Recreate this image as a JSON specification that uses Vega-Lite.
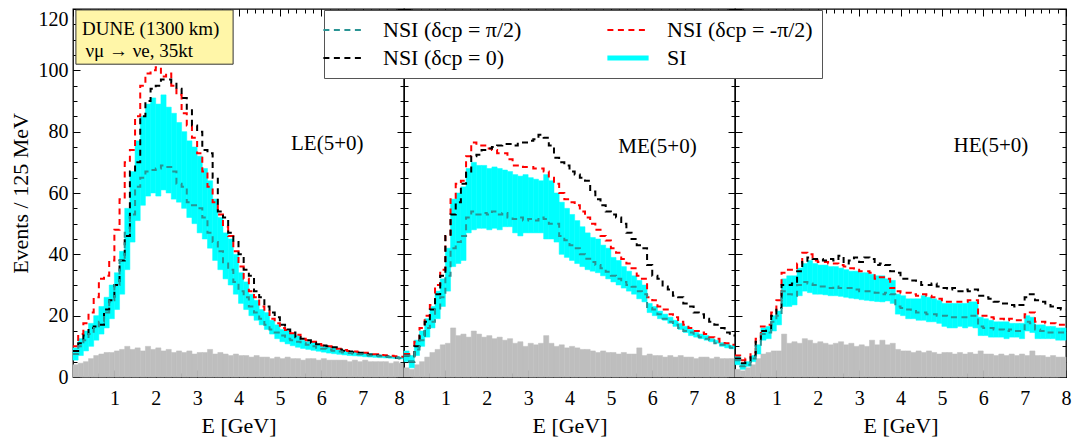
{
"$schema": "https://vega.github.io/schema/vega-lite/v6.json",
"padding": {"left": 8, "top": 7, "right": 5, "bottom": 3},
"background": "white",
"config": {
 "font": "Liberation Serif",
 "view": {"stroke": "#000000", "strokeWidth": 1.3},
 "axis": {"domain": false, "grid": false, "tickColor": "#000000", "tickWidth": 1, "labelFont": "Liberation Serif", "labelFontSize": 20, "labelColor": "#000000", "labelFlush": false, "titleFont": "Liberation Serif", "titleFontSize": 22, "titleFontWeight": "normal", "titleColor": "#000000"}
},
"datasets": {
"bins": [
{"p":"LE","e0":0,"e1":0.125,"lo":5.5,"hi":9.5,"a":7.5,"b":8.5,"c":10,"g":4},
{"p":"LE","e0":0.125,"e1":0.25,"lo":7,"hi":12.5,"a":10,"b":11,"c":14,"g":4.5},
{"p":"LE","e0":0.25,"e1":0.375,"lo":8.5,"hi":15,"a":12,"b":13.5,"c":17.5,"g":5},
{"p":"LE","e0":0.375,"e1":0.5,"lo":10,"hi":17.5,"a":14,"b":16,"c":21,"g":6},
{"p":"LE","e0":0.5,"e1":0.625,"lo":12,"hi":20,"a":16,"b":16.5,"c":26,"g":7},
{"p":"LE","e0":0.625,"e1":0.75,"lo":14,"hi":23,"a":18,"b":17,"c":32,"g":7.5},
{"p":"LE","e0":0.75,"e1":0.875,"lo":16,"hi":26,"a":21,"b":22,"c":33,"g":8},
{"p":"LE","e0":0.875,"e1":1,"lo":19,"hi":30,"a":25,"b":25,"c":38,"g":8},
{"p":"LE","e0":1,"e1":1.125,"lo":22,"hi":34,"a":30,"b":30,"c":48,"g":8.5},
{"p":"LE","e0":1.125,"e1":1.25,"lo":27,"hi":41,"a":38,"b":38,"c":58,"g":9},
{"p":"LE","e0":1.25,"e1":1.375,"lo":35,"hi":55,"a":47,"b":46,"c":70,"g":10},
{"p":"LE","e0":1.375,"e1":1.5,"lo":44,"hi":67,"a":53,"b":67,"c":74,"g":9},
{"p":"LE","e0":1.5,"e1":1.625,"lo":51,"hi":77,"a":62,"b":70,"c":85,"g":9.5},
{"p":"LE","e0":1.625,"e1":1.75,"lo":56,"hi":85,"a":65,"b":85,"c":95,"g":8.5},
{"p":"LE","e0":1.75,"e1":1.875,"lo":59,"hi":89,"a":67,"b":90,"c":99,"g":10},
{"p":"LE","e0":1.875,"e1":2,"lo":60,"hi":91,"a":67.5,"b":94,"c":100,"g":9},
{"p":"LE","e0":2,"e1":2.125,"lo":59,"hi":89,"a":68,"b":95,"c":101,"g":9.5},
{"p":"LE","e0":2.125,"e1":2.25,"lo":61,"hi":92,"a":69,"b":97,"c":98,"g":8.5},
{"p":"LE","e0":2.25,"e1":2.375,"lo":60,"hi":88,"a":68.5,"b":97,"c":99,"g":9},
{"p":"LE","e0":2.375,"e1":2.5,"lo":58,"hi":86,"a":67,"b":96,"c":95,"g":8},
{"p":"LE","e0":2.5,"e1":2.625,"lo":57,"hi":83,"a":63,"b":94,"c":92,"g":8.5},
{"p":"LE","e0":2.625,"e1":2.75,"lo":55,"hi":80,"a":62,"b":91,"c":86,"g":8},
{"p":"LE","e0":2.75,"e1":2.875,"lo":52,"hi":77,"a":57,"b":87,"c":82,"g":8.5},
{"p":"LE","e0":2.875,"e1":3,"lo":50,"hi":75,"a":56,"b":82,"c":78,"g":7.5},
{"p":"LE","e0":3,"e1":3.125,"lo":47,"hi":72,"a":55,"b":80,"c":73,"g":8},
{"p":"LE","e0":3.125,"e1":3.25,"lo":45,"hi":68,"a":52,"b":74,"c":67,"g":8},
{"p":"LE","e0":3.25,"e1":3.375,"lo":42,"hi":64,"a":47,"b":73,"c":62,"g":9},
{"p":"LE","e0":3.375,"e1":3.5,"lo":38,"hi":58,"a":44,"b":65,"c":57,"g":7.5},
{"p":"LE","e0":3.5,"e1":3.625,"lo":35,"hi":52,"a":41,"b":54,"c":53,"g":8},
{"p":"LE","e0":3.625,"e1":3.75,"lo":32,"hi":47,"a":37,"b":52,"c":49,"g":7.5},
{"p":"LE","e0":3.75,"e1":3.875,"lo":30,"hi":45,"a":35,"b":47,"c":46,"g":7},
{"p":"LE","e0":3.875,"e1":4,"lo":27,"hi":40,"a":31,"b":44,"c":41,"g":7.5},
{"p":"LE","e0":4,"e1":4.125,"lo":24,"hi":34,"a":28,"b":40,"c":36,"g":7},
{"p":"LE","e0":4.125,"e1":4.25,"lo":22,"hi":31,"a":26,"b":35,"c":32,"g":7},
{"p":"LE","e0":4.25,"e1":4.375,"lo":20,"hi":27,"a":23,"b":33,"c":28,"g":6.5},
{"p":"LE","e0":4.375,"e1":4.5,"lo":18.5,"hi":25,"a":21,"b":28,"c":26,"g":7},
{"p":"LE","e0":4.5,"e1":4.625,"lo":17,"hi":22,"a":19,"b":26,"c":23,"g":6.5},
{"p":"LE","e0":4.625,"e1":4.75,"lo":15.5,"hi":21,"a":17,"b":23,"c":21.5,"g":6.5},
{"p":"LE","e0":4.75,"e1":4.875,"lo":14,"hi":18.5,"a":15.5,"b":21,"c":19,"g":6},
{"p":"LE","e0":4.875,"e1":5,"lo":12.5,"hi":17,"a":14.5,"b":19.5,"c":17.5,"g":6.5},
{"p":"LE","e0":5,"e1":5.125,"lo":11.5,"hi":15.5,"a":13.5,"b":17,"c":16,"g":6},
{"p":"LE","e0":5.125,"e1":5.25,"lo":10.8,"hi":15,"a":12.5,"b":15.5,"c":15.3,"g":6.5},
{"p":"LE","e0":5.25,"e1":5.375,"lo":10.2,"hi":14,"a":12,"b":14.5,"c":14.3,"g":6},
{"p":"LE","e0":5.375,"e1":5.5,"lo":9.7,"hi":13.5,"a":11.5,"b":13,"c":13.8,"g":6},
{"p":"LE","e0":5.5,"e1":5.625,"lo":9.3,"hi":12,"a":11,"b":12.5,"c":12.5,"g":5.5},
{"p":"LE","e0":5.625,"e1":5.75,"lo":9,"hi":11.5,"a":10.5,"b":12,"c":12,"g":6},
{"p":"LE","e0":5.75,"e1":5.875,"lo":8.7,"hi":11.2,"a":10,"b":11.2,"c":11.5,"g":6},
{"p":"LE","e0":5.875,"e1":6,"lo":8.4,"hi":10.5,"a":9.5,"b":10.7,"c":10.8,"g":5.5},
{"p":"LE","e0":6,"e1":6.125,"lo":8.1,"hi":10,"a":9.2,"b":10.3,"c":10.3,"g":6},
{"p":"LE","e0":6.125,"e1":6.25,"lo":7.8,"hi":9.8,"a":8.9,"b":10,"c":10,"g":5.5},
{"p":"LE","e0":6.25,"e1":6.375,"lo":7.6,"hi":9.5,"a":8.6,"b":9.7,"c":9.7,"g":5.5},
{"p":"LE","e0":6.375,"e1":6.5,"lo":7.4,"hi":8.8,"a":8.3,"b":9,"c":9.2,"g":5.5},
{"p":"LE","e0":6.5,"e1":6.625,"lo":7.2,"hi":8.5,"a":8,"b":8.6,"c":8.8,"g":5.5},
{"p":"LE","e0":6.625,"e1":6.75,"lo":7,"hi":8.3,"a":7.8,"b":8.3,"c":8.5,"g":5},
{"p":"LE","e0":6.75,"e1":6.875,"lo":6.9,"hi":8.2,"a":7.6,"b":8.1,"c":8.3,"g":5.5},
{"p":"LE","e0":6.875,"e1":7,"lo":6.8,"hi":8,"a":7.4,"b":7.9,"c":8.1,"g":5},
{"p":"LE","e0":7,"e1":7.125,"lo":6.6,"hi":7.8,"a":7.2,"b":7.6,"c":7.9,"g":5.5},
{"p":"LE","e0":7.125,"e1":7.25,"lo":6.5,"hi":7.6,"a":7,"b":7.3,"c":7.7,"g":5},
{"p":"LE","e0":7.25,"e1":7.375,"lo":6.4,"hi":7.3,"a":6.9,"b":7.1,"c":7.4,"g":5},
{"p":"LE","e0":7.375,"e1":7.5,"lo":6.3,"hi":7.1,"a":6.8,"b":6.9,"c":7.2,"g":5},
{"p":"LE","e0":7.5,"e1":7.625,"lo":6.2,"hi":7,"a":6.6,"b":6.7,"c":7.1,"g":5},
{"p":"LE","e0":7.625,"e1":7.75,"lo":6.1,"hi":6.8,"a":6.5,"b":6.5,"c":6.9,"g":4.5},
{"p":"LE","e0":7.75,"e1":7.875,"lo":6,"hi":6.7,"a":6.3,"b":6.3,"c":6.8,"g":5},
{"p":"LE","e0":7.875,"e1":8,"lo":5.9,"hi":6.5,"a":6.2,"b":6.1,"c":6.6,"g":4.5},
{"p":"ME","e0":0,"e1":0.125,"lo":5,"hi":8.5,"a":7,"b":7,"c":7.5,"g":3},
{"p":"ME","e0":0.125,"e1":0.25,"lo":3,"hi":7,"a":5,"b":5,"c":7,"g":2.5},
{"p":"ME","e0":0.25,"e1":0.375,"lo":7,"hi":12,"a":9,"b":10,"c":11.5,"g":4},
{"p":"ME","e0":0.375,"e1":0.5,"lo":10,"hi":15,"a":12,"b":13.5,"c":16,"g":5},
{"p":"ME","e0":0.5,"e1":0.625,"lo":13,"hi":19,"a":16,"b":18,"c":20,"g":6.5},
{"p":"ME","e0":0.625,"e1":0.75,"lo":16,"hi":23,"a":18,"b":22,"c":23.5,"g":8},
{"p":"ME","e0":0.75,"e1":0.875,"lo":19,"hi":28,"a":22,"b":27,"c":30,"g":9},
{"p":"ME","e0":0.875,"e1":1,"lo":23,"hi":32,"a":26,"b":33,"c":35,"g":10.5},
{"p":"ME","e0":1,"e1":1.125,"lo":28,"hi":42,"a":33,"b":46,"c":46,"g":11},
{"p":"ME","e0":1.125,"e1":1.25,"lo":36,"hi":58,"a":42,"b":53,"c":58,"g":16},
{"p":"ME","e0":1.25,"e1":1.375,"lo":37,"hi":60,"a":44,"b":57,"c":63,"g":13.5},
{"p":"ME","e0":1.375,"e1":1.5,"lo":38,"hi":62,"a":46,"b":63,"c":64,"g":14},
{"p":"ME","e0":1.5,"e1":1.625,"lo":47,"hi":68,"a":52,"b":67,"c":72,"g":13},
{"p":"ME","e0":1.625,"e1":1.75,"lo":48,"hi":70,"a":54,"b":72,"c":76.5,"g":15},
{"p":"ME","e0":1.75,"e1":1.875,"lo":48.5,"hi":69,"a":53,"b":72.5,"c":75.5,"g":14},
{"p":"ME","e0":1.875,"e1":2,"lo":48.5,"hi":69,"a":53.5,"b":74,"c":75.5,"g":13},
{"p":"ME","e0":2,"e1":2.125,"lo":48,"hi":68,"a":53,"b":74.5,"c":74.5,"g":13.5},
{"p":"ME","e0":2.125,"e1":2.25,"lo":48.5,"hi":68.5,"a":54,"b":75,"c":74,"g":12.5},
{"p":"ME","e0":2.25,"e1":2.375,"lo":48,"hi":68,"a":53,"b":75.5,"c":73,"g":13},
{"p":"ME","e0":2.375,"e1":2.5,"lo":49,"hi":67.5,"a":53.5,"b":76,"c":73,"g":12},
{"p":"ME","e0":2.5,"e1":2.625,"lo":49,"hi":67,"a":52,"b":76,"c":71,"g":12.5},
{"p":"ME","e0":2.625,"e1":2.75,"lo":47,"hi":66,"a":51.5,"b":75.5,"c":69,"g":11},
{"p":"ME","e0":2.75,"e1":2.875,"lo":46,"hi":65.5,"a":52,"b":76.5,"c":69,"g":11.5},
{"p":"ME","e0":2.875,"e1":3,"lo":47,"hi":66,"a":51,"b":76.5,"c":68.5,"g":10},
{"p":"ME","e0":3,"e1":3.125,"lo":47,"hi":65,"a":51.5,"b":77,"c":68.5,"g":11},
{"p":"ME","e0":3.125,"e1":3.25,"lo":47,"hi":64.5,"a":51,"b":77.5,"c":68,"g":10.5},
{"p":"ME","e0":3.25,"e1":3.375,"lo":47,"hi":64,"a":52,"b":79,"c":68,"g":11},
{"p":"ME","e0":3.375,"e1":3.5,"lo":45,"hi":66,"a":51.5,"b":78,"c":67,"g":13.5},
{"p":"ME","e0":3.5,"e1":3.625,"lo":45,"hi":64,"a":50,"b":75.5,"c":65,"g":11},
{"p":"ME","e0":3.625,"e1":3.75,"lo":44,"hi":60,"a":50,"b":71.5,"c":63,"g":10},
{"p":"ME","e0":3.75,"e1":3.875,"lo":40,"hi":57,"a":46,"b":70,"c":60,"g":10.5},
{"p":"ME","e0":3.875,"e1":4,"lo":39,"hi":55,"a":44.6,"b":69,"c":58,"g":9.5},
{"p":"ME","e0":4,"e1":4.125,"lo":38,"hi":53,"a":43,"b":67,"c":57,"g":10},
{"p":"ME","e0":4.125,"e1":4.25,"lo":37,"hi":51,"a":42,"b":66,"c":56,"g":9.5},
{"p":"ME","e0":4.25,"e1":4.375,"lo":36,"hi":49,"a":40,"b":65,"c":54,"g":9},
{"p":"ME","e0":4.375,"e1":4.5,"lo":35,"hi":47,"a":38.6,"b":64,"c":52,"g":9},
{"p":"ME","e0":4.5,"e1":4.625,"lo":34.5,"hi":45.5,"a":37.5,"b":60.5,"c":50,"g":8.5},
{"p":"ME","e0":4.625,"e1":4.75,"lo":34,"hi":45,"a":36.5,"b":58,"c":48,"g":8},
{"p":"ME","e0":4.75,"e1":4.875,"lo":33,"hi":43,"a":35.5,"b":56,"c":46,"g":8.5},
{"p":"ME","e0":4.875,"e1":5,"lo":32,"hi":42,"a":34.3,"b":54,"c":44.5,"g":8},
{"p":"ME","e0":5,"e1":5.125,"lo":31,"hi":39,"a":33,"b":53,"c":42,"g":8},
{"p":"ME","e0":5.125,"e1":5.25,"lo":30,"hi":38,"a":32,"b":52,"c":40.5,"g":7.5},
{"p":"ME","e0":5.25,"e1":5.375,"lo":29,"hi":36,"a":31,"b":50,"c":38.5,"g":8},
{"p":"ME","e0":5.375,"e1":5.5,"lo":28,"hi":34.5,"a":30,"b":47,"c":37,"g":7.5},
{"p":"ME","e0":5.5,"e1":5.625,"lo":27,"hi":33,"a":29.4,"b":45,"c":35.5,"g":7.5},
{"p":"ME","e0":5.625,"e1":5.75,"lo":25.5,"hi":31.5,"a":28,"b":43,"c":33,"g":9.5},
{"p":"ME","e0":5.75,"e1":5.875,"lo":24.5,"hi":30,"a":27,"b":42,"c":32,"g":7},
{"p":"ME","e0":5.875,"e1":6,"lo":21,"hi":24,"a":22.5,"b":36.5,"c":26,"g":7.5},
{"p":"ME","e0":6,"e1":6.125,"lo":20,"hi":23,"a":22,"b":33,"c":25,"g":7},
{"p":"ME","e0":6.125,"e1":6.25,"lo":19,"hi":21.5,"a":20.5,"b":32,"c":23,"g":7},
{"p":"ME","e0":6.25,"e1":6.375,"lo":18.5,"hi":20.5,"a":19,"b":29.5,"c":22,"g":6.5},
{"p":"ME","e0":6.375,"e1":6.5,"lo":17.5,"hi":19.5,"a":18,"b":28.5,"c":20.5,"g":7},
{"p":"ME","e0":6.5,"e1":6.625,"lo":16.5,"hi":18.5,"a":17,"b":26.5,"c":19.5,"g":6.5},
{"p":"ME","e0":6.625,"e1":6.75,"lo":15.5,"hi":17.5,"a":16,"b":26,"c":18,"g":7},
{"p":"ME","e0":6.75,"e1":6.875,"lo":14.5,"hi":16.5,"a":15,"b":24,"c":17,"g":6.5},
{"p":"ME","e0":6.875,"e1":7,"lo":13.5,"hi":15.5,"a":14.5,"b":23,"c":16,"g":6.5},
{"p":"ME","e0":7,"e1":7.125,"lo":13,"hi":14.5,"a":13.5,"b":21,"c":15,"g":6},
{"p":"ME","e0":7.125,"e1":7.25,"lo":12.5,"hi":14,"a":13,"b":20.5,"c":14.5,"g":6.5},
{"p":"ME","e0":7.25,"e1":7.375,"lo":12,"hi":13.5,"a":12.5,"b":19,"c":14,"g":6.5},
{"p":"ME","e0":7.375,"e1":7.5,"lo":11.5,"hi":12.5,"a":12,"b":18,"c":13,"g":6},
{"p":"ME","e0":7.5,"e1":7.625,"lo":11,"hi":12,"a":11,"b":17,"c":12.5,"g":6.5},
{"p":"ME","e0":7.625,"e1":7.75,"lo":10,"hi":11.2,"a":10.5,"b":16,"c":11.5,"g":6},
{"p":"ME","e0":7.75,"e1":7.875,"lo":9.5,"hi":10.8,"a":10,"b":14.5,"c":11,"g":6},
{"p":"ME","e0":7.875,"e1":8,"lo":9.2,"hi":10.3,"a":9.5,"b":13.5,"c":10.5,"g":6},
{"p":"HE","e0":0,"e1":0.125,"lo":4,"hi":7,"a":5.5,"b":6,"c":7,"g":2.5},
{"p":"HE","e0":0.125,"e1":0.25,"lo":2.5,"hi":4.5,"a":3.5,"b":4.5,"c":5.5,"g":2},
{"p":"HE","e0":0.25,"e1":0.375,"lo":3.5,"hi":5,"a":4,"b":5,"c":6,"g":3},
{"p":"HE","e0":0.375,"e1":0.5,"lo":5,"hi":7,"a":6,"b":7,"c":8,"g":4},
{"p":"HE","e0":0.5,"e1":0.625,"lo":7.5,"hi":10.5,"a":10,"b":11.5,"c":12.5,"g":6},
{"p":"HE","e0":0.625,"e1":0.75,"lo":12,"hi":16,"a":14,"b":15,"c":16.5,"g":7.5},
{"p":"HE","e0":0.75,"e1":0.875,"lo":12.5,"hi":16.5,"a":14.5,"b":15.5,"c":17,"g":8},
{"p":"HE","e0":0.875,"e1":1,"lo":15,"hi":20,"a":18,"b":20,"c":21,"g":8.5},
{"p":"HE","e0":1,"e1":1.125,"lo":17,"hi":21.5,"a":20,"b":22.5,"c":25,"g":8.5},
{"p":"HE","e0":1.125,"e1":1.25,"lo":23,"hi":32,"a":28,"b":30,"c":34,"g":14},
{"p":"HE","e0":1.25,"e1":1.375,"lo":23,"hi":33,"a":27,"b":30,"c":35,"g":11},
{"p":"HE","e0":1.375,"e1":1.5,"lo":23.5,"hi":33,"a":26.5,"b":30.5,"c":35,"g":11.5},
{"p":"HE","e0":1.5,"e1":1.625,"lo":26.5,"hi":35.5,"a":30,"b":34.5,"c":37,"g":11},
{"p":"HE","e0":1.625,"e1":1.75,"lo":28,"hi":37,"a":31,"b":37.5,"c":40.5,"g":12.5},
{"p":"HE","e0":1.75,"e1":1.875,"lo":27.5,"hi":38,"a":30.5,"b":39,"c":40,"g":12},
{"p":"HE","e0":1.875,"e1":2,"lo":27,"hi":37,"a":30,"b":38.5,"c":38,"g":11},
{"p":"HE","e0":2,"e1":2.125,"lo":27,"hi":36.5,"a":29.5,"b":38.5,"c":37.5,"g":11.5},
{"p":"HE","e0":2.125,"e1":2.25,"lo":26.8,"hi":36.5,"a":29.5,"b":38,"c":37.5,"g":11},
{"p":"HE","e0":2.25,"e1":2.375,"lo":26.5,"hi":36,"a":29,"b":38.5,"c":37,"g":10.5},
{"p":"HE","e0":2.375,"e1":2.5,"lo":26.5,"hi":36,"a":29.5,"b":38,"c":37,"g":11},
{"p":"HE","e0":2.5,"e1":2.625,"lo":26.3,"hi":35.5,"a":29,"b":39.5,"c":36.5,"g":11.5},
{"p":"HE","e0":2.625,"e1":2.75,"lo":26,"hi":35,"a":29,"b":37,"c":36,"g":10.5},
{"p":"HE","e0":2.75,"e1":2.875,"lo":25.7,"hi":34.5,"a":29,"b":38,"c":35.5,"g":11},
{"p":"HE","e0":2.875,"e1":3,"lo":25.5,"hi":34.5,"a":28.5,"b":39,"c":35,"g":10},
{"p":"HE","e0":3,"e1":3.125,"lo":25.2,"hi":34,"a":28,"b":37.5,"c":34.5,"g":10.5},
{"p":"HE","e0":3.125,"e1":3.25,"lo":25,"hi":34,"a":28,"b":39,"c":34.5,"g":10},
{"p":"HE","e0":3.25,"e1":3.375,"lo":24.8,"hi":33.5,"a":28,"b":38.5,"c":34,"g":12},
{"p":"HE","e0":3.375,"e1":3.5,"lo":24.6,"hi":33,"a":27.5,"b":36.5,"c":32,"g":10.5},
{"p":"HE","e0":3.5,"e1":3.625,"lo":24.5,"hi":33,"a":27,"b":37,"c":32.5,"g":12},
{"p":"HE","e0":3.625,"e1":3.75,"lo":24.8,"hi":32,"a":27.5,"b":36.5,"c":32,"g":10.5},
{"p":"HE","e0":3.75,"e1":3.875,"lo":24,"hi":31.5,"a":27,"b":34.5,"c":29,"g":11},
{"p":"HE","e0":3.875,"e1":4,"lo":20.5,"hi":27,"a":23,"b":34,"c":28,"g":9},
{"p":"HE","e0":4,"e1":4.125,"lo":20,"hi":26.5,"a":22.5,"b":32,"c":27.5,"g":8.5},
{"p":"HE","e0":4.125,"e1":4.25,"lo":19,"hi":25.5,"a":22,"b":32,"c":27.5,"g":8.5},
{"p":"HE","e0":4.25,"e1":4.375,"lo":19,"hi":25.5,"a":21.5,"b":31.5,"c":27,"g":8},
{"p":"HE","e0":4.375,"e1":4.5,"lo":18.5,"hi":25.5,"a":21,"b":31,"c":26.5,"g":8.5},
{"p":"HE","e0":4.5,"e1":4.625,"lo":18.5,"hi":26.5,"a":21,"b":30,"c":27,"g":8},
{"p":"HE","e0":4.625,"e1":4.75,"lo":18,"hi":26,"a":20.5,"b":30,"c":26.5,"g":8.5},
{"p":"HE","e0":4.75,"e1":4.875,"lo":18,"hi":25.5,"a":20.5,"b":30.5,"c":26,"g":8},
{"p":"HE","e0":4.875,"e1":5,"lo":17.5,"hi":25,"a":20,"b":29.5,"c":25.5,"g":7.5},
{"p":"HE","e0":5,"e1":5.125,"lo":16.5,"hi":24,"a":20,"b":29,"c":24.5,"g":8},
{"p":"HE","e0":5.125,"e1":5.25,"lo":16,"hi":24,"a":19.5,"b":28.5,"c":24.5,"g":8},
{"p":"HE","e0":5.25,"e1":5.375,"lo":16,"hi":24,"a":19.5,"b":29,"c":24.5,"g":7.5},
{"p":"HE","e0":5.375,"e1":5.5,"lo":16.5,"hi":24,"a":19.5,"b":28,"c":24.5,"g":8},
{"p":"HE","e0":5.5,"e1":5.625,"lo":16,"hi":24,"a":19.5,"b":28.5,"c":24.5,"g":7.5},
{"p":"HE","e0":5.625,"e1":5.75,"lo":16.5,"hi":24.5,"a":20,"b":28,"c":25,"g":8},
{"p":"HE","e0":5.75,"e1":5.875,"lo":16,"hi":24.5,"a":20,"b":28.5,"c":25,"g":7.5},
{"p":"HE","e0":5.875,"e1":6,"lo":13.5,"hi":19.5,"a":16.5,"b":26.5,"c":20,"g":8.5},
{"p":"HE","e0":6,"e1":6.125,"lo":13.5,"hi":19,"a":16,"b":26,"c":20,"g":7.5},
{"p":"HE","e0":6.125,"e1":6.25,"lo":13,"hi":18.5,"a":16,"b":25.5,"c":19.5,"g":7.5},
{"p":"HE","e0":6.25,"e1":6.375,"lo":13,"hi":18,"a":15.5,"b":24.5,"c":19,"g":7},
{"p":"HE","e0":6.375,"e1":6.5,"lo":13,"hi":18,"a":15.5,"b":24,"c":19,"g":7.5},
{"p":"HE","e0":6.5,"e1":6.625,"lo":12.5,"hi":18,"a":15,"b":24,"c":18.5,"g":7},
{"p":"HE","e0":6.625,"e1":6.75,"lo":13,"hi":17.5,"a":15.5,"b":23.5,"c":19,"g":7.5},
{"p":"HE","e0":6.75,"e1":6.875,"lo":13,"hi":17.5,"a":15,"b":23,"c":18.5,"g":7},
{"p":"HE","e0":6.875,"e1":7,"lo":12.5,"hi":17.5,"a":15,"b":23.5,"c":18.5,"g":7.5},
{"p":"HE","e0":7,"e1":7.125,"lo":15,"hi":20,"a":18,"b":26,"c":20.5,"g":7},
{"p":"HE","e0":7.125,"e1":7.25,"lo":14.5,"hi":19.5,"a":17.5,"b":27,"c":21,"g":8.5},
{"p":"HE","e0":7.25,"e1":7.375,"lo":12.5,"hi":17,"a":15.5,"b":25,"c":18,"g":7},
{"p":"HE","e0":7.375,"e1":7.5,"lo":12.5,"hi":17,"a":15,"b":24.5,"c":18,"g":7},
{"p":"HE","e0":7.5,"e1":7.625,"lo":12.5,"hi":16.5,"a":14.5,"b":23.5,"c":17.5,"g":6.5},
{"p":"HE","e0":7.625,"e1":7.75,"lo":12.5,"hi":16.5,"a":14.5,"b":23,"c":17.5,"g":7},
{"p":"HE","e0":7.75,"e1":7.875,"lo":12,"hi":16,"a":14.5,"b":22.5,"c":17,"g":6.5},
{"p":"HE","e0":7.875,"e1":8,"lo":12,"hi":16,"a":14.5,"b":22,"c":17,"g":6.5}
]
},
"hconcat": [
{
 "width": 331, "height": 368,
 "layer": [
  {"data": {"name": "bins"}, "transform": [{"filter": "datum.p === 'LE'"}],
   "mark": {"type": "rect", "color": "#bebebe", "stroke": "#bebebe", "strokeWidth": 0.5},
   "encoding": {
    "x": {"field": "e0", "type": "quantitative", "scale": {"domain": [0, 8], "nice": false, "zero": false}, "axis": {"orient": "bottom", "values": [1,2,3,4,5,6,7,8], "format": "d", "tickSize": -7, "labelPadding": 18, "labelFlush": true, "title": "E [GeV]", "titlePadding": 7}},
    "x2": {"field": "e1"},
    "y": {"field": "g", "type": "quantitative", "scale": {"domain": [0, 120], "nice": false}, "axis": {"orient": "left", "values": [0,20,40,60,80,100], "format": "d", "tickSize": -7, "labelPadding": 12, "title": "Events / 125 MeV", "titlePadding": 6}},
    "y2": {"datum": 0}
   }},
  {"data": {"name": "bins"}, "transform": [{"filter": "datum.p === 'LE'"}],
   "mark": {"type": "rect", "fill": "#00ffff", "strokeWidth": 0.5},
   "encoding": {
    "x": {"field": "e0", "type": "quantitative", "axis": {"orient": "bottom", "values": [0,0.2,0.4,0.6,0.8,1,1.2,1.4,1.6,1.8,2,2.2,2.4,2.6,2.8,3,3.2,3.4,3.6,3.8,4,4.2,4.4,4.6,4.8,5,5.2,5.4,5.6,5.8,6,6.2,6.4,6.6,6.8,7,7.2,7.4,7.6,7.8,8], "tickSize": -4, "labels": false, "title": null}},
    "x2": {"field": "e1"},
    "y": {"field": "lo", "type": "quantitative", "axis": {"orient": "left", "values": [0,5,10,15,20,25,30,35,40,45,50,55,60,65,70,75,80,85,90,95,100,105,110,115,120], "tickSize": -4, "labels": false, "title": null}},
    "y2": {"field": "hi"},
    "stroke": {"datum": "SI", "type": "nominal", "scale": {"domain": ["n1", "n3", "n2", "SI"], "range": ["#2a9494", "#ff0000", "#000000", "#00ffff"]}}
   }},
  {"data": {"name": "bins"}, "transform": [{"filter": "datum.p === 'LE'"}, {"fold": ["e0", "e1"], "as": ["k", "x"]}],
   "mark": {"type": "line", "strokeDash": [6, 4.5], "strokeWidth": 2},
   "encoding": {
    "x": {"field": "x", "type": "quantitative", "axis": {"orient": "top", "values": [0,1,2,3,4,5,6,7,8], "tickSize": -7, "labels": false, "title": null}},
    "y": {"field": "c", "type": "quantitative", "axis": {"orient": "right", "values": [0,20,40,60,80,100,120], "tickSize": -7, "labels": false, "title": null}},
    "order": [{"field": "x", "type": "quantitative"}, {"field": "k", "type": "nominal", "sort": "descending"}],
    "stroke": {"datum": "n3", "type": "nominal",
     "scale": {"domain": ["n1", "n3", "n2", "SI"], "range": ["#2a9494", "#ff0000", "#000000", "#00ffff"]},
     "legend": {"orient": "none", "legendX": 251, "legendY": 1, "columns": 2, "direction": "horizontal", "title": null,
      "symbolType": "stroke", "symbolSize": 1700,
      "symbolDash": {"expr": "datum && datum.value === 'SI' ? [100, 0] : [6, 4.5]"},
      "symbolStrokeWidth": {"expr": "datum && datum.value === 'SI' ? 5 : 2"},
      "labelFont": "Liberation Serif", "labelFontSize": 22, "labelLimit": 300, "labelColor": "#000000",
      "padding": 9, "strokeColor": "#555555", "fillColor": "#ffffff", "columnPadding": 75, "rowPadding": 6, "labelOffset": 28,
      "labelExpr": "datum.value === 'n1' ? 'NSI (δcp = π/2)' : datum.value === 'n2' ? 'NSI (δcp = 0)' : datum.value === 'n3' ? 'NSI (δcp = -π/2)' : 'SI'"}}
   }},
  {"data": {"name": "bins"}, "transform": [{"filter": "datum.p === 'LE'"}, {"fold": ["e0", "e1"], "as": ["k", "x"]}],
   "mark": {"type": "line", "strokeDash": [6, 4.5], "strokeWidth": 2},
   "encoding": {
    "x": {"field": "x", "type": "quantitative", "axis": {"orient": "top", "values": [0,0.2,0.4,0.6,0.8,1,1.2,1.4,1.6,1.8,2,2.2,2.4,2.6,2.8,3,3.2,3.4,3.6,3.8,4,4.2,4.4,4.6,4.8,5,5.2,5.4,5.6,5.8,6,6.2,6.4,6.6,6.8,7,7.2,7.4,7.6,7.8,8], "tickSize": -4, "labels": false, "title": null}},
    "y": {"field": "b", "type": "quantitative", "axis": {"orient": "right", "values": [0,5,10,15,20,25,30,35,40,45,50,55,60,65,70,75,80,85,90,95,100,105,110,115,120], "tickSize": -4, "labels": false, "title": null}},
    "order": [{"field": "x", "type": "quantitative"}, {"field": "k", "type": "nominal", "sort": "descending"}],
    "stroke": {"datum": "n2", "type": "nominal", "scale": {"domain": ["n1", "n3", "n2", "SI"], "range": ["#2a9494", "#ff0000", "#000000", "#00ffff"]}}
   }},
  {"data": {"name": "bins"}, "transform": [{"filter": "datum.p === 'LE'"}, {"fold": ["e0", "e1"], "as": ["k", "x"]}],
   "mark": {"type": "line", "strokeDash": [6, 4.5], "strokeWidth": 2},
   "encoding": {
    "x": {"field": "x", "type": "quantitative", "axis": null},
    "y": {"field": "a", "type": "quantitative", "axis": {"orient": "left", "values": [120], "format": "d", "tickSize": -7, "labelPadding": 12, "labelFlush": true, "title": null}},
    "order": [{"field": "x", "type": "quantitative"}, {"field": "k", "type": "nominal", "sort": "descending"}],
    "stroke": {"datum": "n1", "type": "nominal", "scale": {"domain": ["n1", "n3", "n2", "SI"], "range": ["#2a9494", "#ff0000", "#000000", "#00ffff"]}}
   }},
  {"data": {"values": [{"t": "LE(5+0)"}]},
   "mark": {"type": "text", "fontSize": 21, "align": "left", "baseline": "alphabetic", "color": "#000000"},
   "encoding": {"x": {"datum": 5.27, "type": "quantitative", "axis": null}, "y": {"datum": 74, "type": "quantitative", "axis": null}, "text": {"field": "t"}}},
  {"data": {"values": [{"t": "DUNE (1300 km)"}]},
   "mark": {"type": "rect", "fill": "#fff6a8", "stroke": "#333333", "strokeWidth": 1},
   "encoding": {"x": {"datum": 0.07, "type": "quantitative", "axis": null}, "x2": {"datum": 3.87}, "y": {"datum": 102, "type": "quantitative", "axis": null}, "y2": {"datum": 119.7}}},
  {"data": {"values": [{"t": "DUNE (1300 km)"}]},
   "mark": {"type": "text", "fontSize": 19, "align": "left", "baseline": "alphabetic", "color": "#000000"},
   "encoding": {"x": {"datum": 0.22, "type": "quantitative", "axis": null}, "y": {"datum": 111.6, "type": "quantitative", "axis": null}, "text": {"field": "t"}}},
  {"data": {"values": [{"t": "νμ → νe, 35kt"}]},
   "mark": {"type": "text", "fontSize": 19, "align": "left", "baseline": "alphabetic", "color": "#000000"},
   "encoding": {"x": {"datum": 0.3, "type": "quantitative", "axis": null}, "y": {"datum": 104.3, "type": "quantitative", "axis": null}, "text": {"field": "t"}}}
 ],
 "resolve": {"axis": {"x": "independent", "y": "independent"}}
},
{
 "width": 331, "height": 368,
 "layer": [
  {"data": {"name": "bins"}, "transform": [{"filter": "datum.p === 'ME'"}],
   "mark": {"type": "rect", "color": "#bebebe", "stroke": "#bebebe", "strokeWidth": 0.5},
   "encoding": {
    "x": {"field": "e0", "type": "quantitative", "scale": {"domain": [0, 8], "nice": false, "zero": false}, "axis": {"orient": "bottom", "values": [1,2,3,4,5,6,7,8], "format": "d", "tickSize": -7, "labelPadding": 18, "labelFlush": true, "title": "E [GeV]", "titlePadding": 7}},
    "x2": {"field": "e1"},
    "y": {"field": "g", "type": "quantitative", "scale": {"domain": [0, 120], "nice": false}, "axis": {"orient": "left", "values": [0,20,40,60,80,100,120], "tickSize": -7, "labels": false, "title": null}},
    "y2": {"datum": 0}
   }},
  {"data": {"name": "bins"}, "transform": [{"filter": "datum.p === 'ME'"}],
   "mark": {"type": "rect", "fill": "#00ffff", "strokeWidth": 0.5},
   "encoding": {
    "x": {"field": "e0", "type": "quantitative", "axis": {"orient": "bottom", "values": [0,0.2,0.4,0.6,0.8,1,1.2,1.4,1.6,1.8,2,2.2,2.4,2.6,2.8,3,3.2,3.4,3.6,3.8,4,4.2,4.4,4.6,4.8,5,5.2,5.4,5.6,5.8,6,6.2,6.4,6.6,6.8,7,7.2,7.4,7.6,7.8,8], "tickSize": -4, "labels": false, "title": null}},
    "x2": {"field": "e1"},
    "y": {"field": "lo", "type": "quantitative", "axis": {"orient": "left", "values": [0,5,10,15,20,25,30,35,40,45,50,55,60,65,70,75,80,85,90,95,100,105,110,115,120], "tickSize": -4, "labels": false, "title": null}},
    "y2": {"field": "hi"},
    "stroke": {"datum": "SI", "type": "nominal", "scale": {"domain": ["n1", "n3", "n2", "SI"], "range": ["#2a9494", "#ff0000", "#000000", "#00ffff"]}}
   }},
  {"data": {"name": "bins"}, "transform": [{"filter": "datum.p === 'ME'"}, {"fold": ["e0", "e1"], "as": ["k", "x"]}],
   "mark": {"type": "line", "strokeDash": [6, 4.5], "strokeWidth": 2},
   "encoding": {
    "x": {"field": "x", "type": "quantitative", "axis": {"orient": "top", "values": [0,1,2,3,4,5,6,7,8], "tickSize": -7, "labels": false, "title": null}},
    "y": {"field": "c", "type": "quantitative", "axis": {"orient": "right", "values": [0,20,40,60,80,100,120], "tickSize": -7, "labels": false, "title": null}},
    "order": [{"field": "x", "type": "quantitative"}, {"field": "k", "type": "nominal", "sort": "descending"}],
    "stroke": {"datum": "n3", "type": "nominal", "scale": {"domain": ["n1", "n3", "n2", "SI"], "range": ["#2a9494", "#ff0000", "#000000", "#00ffff"]}}
   }},
  {"data": {"name": "bins"}, "transform": [{"filter": "datum.p === 'ME'"}, {"fold": ["e0", "e1"], "as": ["k", "x"]}],
   "mark": {"type": "line", "strokeDash": [6, 4.5], "strokeWidth": 2},
   "encoding": {
    "x": {"field": "x", "type": "quantitative", "axis": {"orient": "top", "values": [0,0.2,0.4,0.6,0.8,1,1.2,1.4,1.6,1.8,2,2.2,2.4,2.6,2.8,3,3.2,3.4,3.6,3.8,4,4.2,4.4,4.6,4.8,5,5.2,5.4,5.6,5.8,6,6.2,6.4,6.6,6.8,7,7.2,7.4,7.6,7.8,8], "tickSize": -4, "labels": false, "title": null}},
    "y": {"field": "b", "type": "quantitative", "axis": {"orient": "right", "values": [0,5,10,15,20,25,30,35,40,45,50,55,60,65,70,75,80,85,90,95,100,105,110,115,120], "tickSize": -4, "labels": false, "title": null}},
    "order": [{"field": "x", "type": "quantitative"}, {"field": "k", "type": "nominal", "sort": "descending"}],
    "stroke": {"datum": "n2", "type": "nominal", "scale": {"domain": ["n1", "n3", "n2", "SI"], "range": ["#2a9494", "#ff0000", "#000000", "#00ffff"]}}
   }},
  {"data": {"name": "bins"}, "transform": [{"filter": "datum.p === 'ME'"}, {"fold": ["e0", "e1"], "as": ["k", "x"]}],
   "mark": {"type": "line", "strokeDash": [6, 4.5], "strokeWidth": 2},
   "encoding": {
    "x": {"field": "x", "type": "quantitative", "axis": null},
    "y": {"field": "a", "type": "quantitative", "axis": null},
    "order": [{"field": "x", "type": "quantitative"}, {"field": "k", "type": "nominal", "sort": "descending"}],
    "stroke": {"datum": "n1", "type": "nominal", "scale": {"domain": ["n1", "n3", "n2", "SI"], "range": ["#2a9494", "#ff0000", "#000000", "#00ffff"]}}
   }},
  {"data": {"values": [{"t": "ME(5+0)"}]},
   "mark": {"type": "text", "fontSize": 21, "align": "left", "baseline": "alphabetic", "color": "#000000"},
   "encoding": {"x": {"datum": 5.18, "type": "quantitative", "axis": null}, "y": {"datum": 73, "type": "quantitative", "axis": null}, "text": {"field": "t"}}}
 ],
 "resolve": {"axis": {"x": "independent", "y": "independent"}}
},
{
 "width": 331, "height": 368,
 "layer": [
  {"data": {"name": "bins"}, "transform": [{"filter": "datum.p === 'HE'"}],
   "mark": {"type": "rect", "color": "#bebebe", "stroke": "#bebebe", "strokeWidth": 0.5},
   "encoding": {
    "x": {"field": "e0", "type": "quantitative", "scale": {"domain": [0, 8], "nice": false, "zero": false}, "axis": {"orient": "bottom", "values": [1,2,3,4,5,6,7,8], "format": "d", "tickSize": -7, "labelPadding": 18, "title": "E [GeV]", "titlePadding": 7}},
    "x2": {"field": "e1"},
    "y": {"field": "g", "type": "quantitative", "scale": {"domain": [0, 120], "nice": false}, "axis": {"orient": "left", "values": [0,20,40,60,80,100,120], "tickSize": -7, "labels": false, "title": null}},
    "y2": {"datum": 0}
   }},
  {"data": {"name": "bins"}, "transform": [{"filter": "datum.p === 'HE'"}],
   "mark": {"type": "rect", "fill": "#00ffff", "strokeWidth": 0.5},
   "encoding": {
    "x": {"field": "e0", "type": "quantitative", "axis": {"orient": "bottom", "values": [0,0.2,0.4,0.6,0.8,1,1.2,1.4,1.6,1.8,2,2.2,2.4,2.6,2.8,3,3.2,3.4,3.6,3.8,4,4.2,4.4,4.6,4.8,5,5.2,5.4,5.6,5.8,6,6.2,6.4,6.6,6.8,7,7.2,7.4,7.6,7.8,8], "tickSize": -4, "labels": false, "title": null}},
    "x2": {"field": "e1"},
    "y": {"field": "lo", "type": "quantitative", "axis": {"orient": "left", "values": [0,5,10,15,20,25,30,35,40,45,50,55,60,65,70,75,80,85,90,95,100,105,110,115,120], "tickSize": -4, "labels": false, "title": null}},
    "y2": {"field": "hi"},
    "stroke": {"datum": "SI", "type": "nominal", "scale": {"domain": ["n1", "n3", "n2", "SI"], "range": ["#2a9494", "#ff0000", "#000000", "#00ffff"]}}
   }},
  {"data": {"name": "bins"}, "transform": [{"filter": "datum.p === 'HE'"}, {"fold": ["e0", "e1"], "as": ["k", "x"]}],
   "mark": {"type": "line", "strokeDash": [6, 4.5], "strokeWidth": 2},
   "encoding": {
    "x": {"field": "x", "type": "quantitative", "axis": {"orient": "top", "values": [0,1,2,3,4,5,6,7,8], "tickSize": -7, "labels": false, "title": null}},
    "y": {"field": "c", "type": "quantitative", "axis": {"orient": "right", "values": [0,20,40,60,80,100,120], "tickSize": -7, "labels": false, "title": null}},
    "order": [{"field": "x", "type": "quantitative"}, {"field": "k", "type": "nominal", "sort": "descending"}],
    "stroke": {"datum": "n3", "type": "nominal", "scale": {"domain": ["n1", "n3", "n2", "SI"], "range": ["#2a9494", "#ff0000", "#000000", "#00ffff"]}}
   }},
  {"data": {"name": "bins"}, "transform": [{"filter": "datum.p === 'HE'"}, {"fold": ["e0", "e1"], "as": ["k", "x"]}],
   "mark": {"type": "line", "strokeDash": [6, 4.5], "strokeWidth": 2},
   "encoding": {
    "x": {"field": "x", "type": "quantitative", "axis": {"orient": "top", "values": [0,0.2,0.4,0.6,0.8,1,1.2,1.4,1.6,1.8,2,2.2,2.4,2.6,2.8,3,3.2,3.4,3.6,3.8,4,4.2,4.4,4.6,4.8,5,5.2,5.4,5.6,5.8,6,6.2,6.4,6.6,6.8,7,7.2,7.4,7.6,7.8,8], "tickSize": -4, "labels": false, "title": null}},
    "y": {"field": "b", "type": "quantitative", "axis": {"orient": "right", "values": [0,5,10,15,20,25,30,35,40,45,50,55,60,65,70,75,80,85,90,95,100,105,110,115,120], "tickSize": -4, "labels": false, "title": null}},
    "order": [{"field": "x", "type": "quantitative"}, {"field": "k", "type": "nominal", "sort": "descending"}],
    "stroke": {"datum": "n2", "type": "nominal", "scale": {"domain": ["n1", "n3", "n2", "SI"], "range": ["#2a9494", "#ff0000", "#000000", "#00ffff"]}}
   }},
  {"data": {"name": "bins"}, "transform": [{"filter": "datum.p === 'HE'"}, {"fold": ["e0", "e1"], "as": ["k", "x"]}],
   "mark": {"type": "line", "strokeDash": [6, 4.5], "strokeWidth": 2},
   "encoding": {
    "x": {"field": "x", "type": "quantitative", "axis": null},
    "y": {"field": "a", "type": "quantitative", "axis": null},
    "order": [{"field": "x", "type": "quantitative"}, {"field": "k", "type": "nominal", "sort": "descending"}],
    "stroke": {"datum": "n1", "type": "nominal", "scale": {"domain": ["n1", "n3", "n2", "SI"], "range": ["#2a9494", "#ff0000", "#000000", "#00ffff"]}}
   }},
  {"data": {"values": [{"t": "HE(5+0)"}]},
   "mark": {"type": "text", "fontSize": 21, "align": "left", "baseline": "alphabetic", "color": "#000000"},
   "encoding": {"x": {"datum": 5.28, "type": "quantitative", "axis": null}, "y": {"datum": 73.5, "type": "quantitative", "axis": null}, "text": {"field": "t"}}}
 ],
 "resolve": {"axis": {"x": "independent", "y": "independent"}}
}
],
"spacing": 0,
"bounds": "flush",
"resolve": {"scale": {"stroke": "shared"}, "legend": {"stroke": "shared"}}
}
